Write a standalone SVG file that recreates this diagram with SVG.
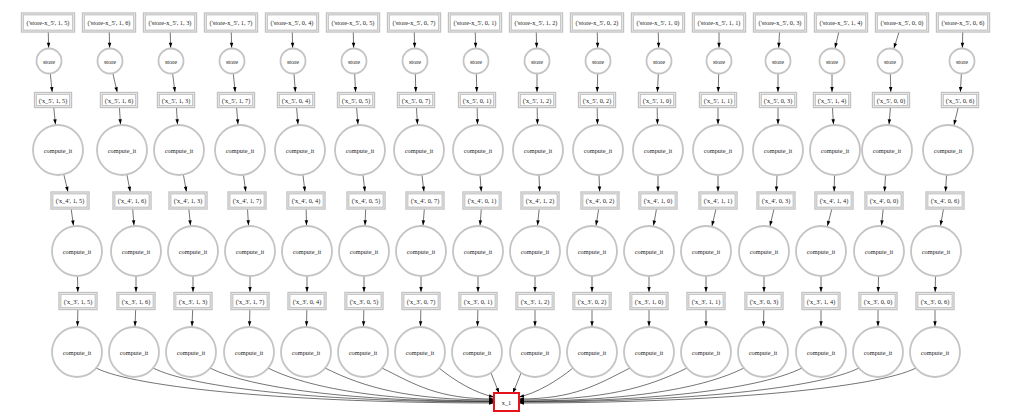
<svg xmlns="http://www.w3.org/2000/svg" xmlns:xlink="http://www.w3.org/1999/xlink" width="1013" height="419" viewBox="0 0 1013 419">
<style>
.bo{fill:#fff;stroke:#c2c2c2;stroke-width:1.4}
.bi{fill:none;stroke:#c2c2c2;stroke-width:1.2}
.nc{fill:#fff;stroke:#c4c4c4;stroke-width:1.8}
.out{fill:#fff;stroke:#e8141b;stroke-width:2}
text{font-family:"Liberation Serif","Times New Roman",serif;font-size:6.3px;fill:#1a1a1a;text-anchor:middle;dominant-baseline:central}
.e{fill:none;stroke:#000;stroke-width:0.55}
.es{marker-end:url(#ms)}
.eb{marker-end:url(#mb)}
.eb2{marker-end:url(#mb2)}
.ec{marker-end:url(#mc)}
.et{marker-end:url(#mt)}
</style>
<defs>
<!-- arrowheads; refX pulls the tip back onto the target outline -->
<marker id="ms" markerUnits="userSpaceOnUse" markerWidth="6" markerHeight="4" refX="18.3" refY="1.75" orient="auto" overflow="visible"><path d="M0,0L5,1.75L0,3.5z"/></marker>
<marker id="mc" markerUnits="userSpaceOnUse" markerWidth="6" markerHeight="4" refX="30.8" refY="1.75" orient="auto" overflow="visible"><path d="M0,0L5,1.75L0,3.5z"/></marker>
<marker id="mb" markerUnits="userSpaceOnUse" markerWidth="6" markerHeight="4" refX="13" refY="1.75" orient="auto" overflow="visible"><path d="M0,0L5,1.75L0,3.5z"/></marker>
<marker id="mb2" markerUnits="userSpaceOnUse" markerWidth="6" markerHeight="4" refX="14" refY="1.75" orient="auto" overflow="visible"><path d="M0,0L5,1.75L0,3.5z"/></marker>
<marker id="mt" markerUnits="userSpaceOnUse" markerWidth="6" markerHeight="4" refX="5" refY="1.75" orient="auto" overflow="visible"><path d="M0,0L5,1.75L0,3.5z"/></marker>
<!-- double-bordered boxes -->
<g id="bxA"><rect class="bo" x="-26.5" y="-9.5" width="53" height="19"/><rect class="bi" x="-24.7" y="-7.7" width="49.4" height="15.4"/></g>
<g id="bxC"><rect class="bo" x="-18.5" y="-7.5" width="37" height="15"/><rect class="bi" x="-16.7" y="-5.7" width="33.4" height="11.4"/></g>
<g id="bxE"><rect class="bo" x="-19" y="-8.5" width="38" height="17"/><rect class="bi" x="-17.2" y="-6.7" width="34.4" height="13.4"/></g>
</defs>

<g id="edges">
<!-- col 1 -->
<path class="e es" d="M48,22.5L49,61"/><path class="e eb" d="M49,61L53,100"/><path class="e ec" d="M53,100L58,150"/><path class="e eb2" d="M58,150L70,200.5"/><path class="e ec" d="M70,200.5L77,251"/><path class="e eb2" d="M77,251L78,301"/><path class="e ec" d="M78,301L77,352"/>
<!-- col 2 -->
<path class="e es" d="M109,22.5L110,61"/><path class="e eb" d="M110,61L119,100"/><path class="e ec" d="M119,100L122,150"/><path class="e eb2" d="M122,150L132,200.5"/><path class="e ec" d="M132,200.5L136,251"/><path class="e eb2" d="M136,251L136,301"/><path class="e ec" d="M136,301L134,352"/>
<!-- col 3 -->
<path class="e es" d="M170,22.5L171,61"/><path class="e eb" d="M171,61L176,100"/><path class="e ec" d="M176,100L179,150"/><path class="e eb2" d="M179,150L188,200.5"/><path class="e ec" d="M188,200.5L193,251"/><path class="e eb2" d="M193,251L193,301"/><path class="e ec" d="M193,301L191,352"/>
<!-- col 4 -->
<path class="e es" d="M231,22.5L232,61"/><path class="e eb" d="M232,61L236,100"/><path class="e ec" d="M236,100L240,150"/><path class="e eb2" d="M240,150L247,200.5"/><path class="e ec" d="M247,200.5L250,251"/><path class="e eb2" d="M250,251L250,301"/><path class="e ec" d="M250,301L249,352"/>
<!-- col 5 -->
<path class="e es" d="M292,22.5L293,61"/><path class="e eb" d="M293,61L296,100"/><path class="e ec" d="M296,100L300,150"/><path class="e eb2" d="M300,150L306,200.5"/><path class="e ec" d="M306,200.5L307,251"/><path class="e eb2" d="M307,251L307,301"/><path class="e ec" d="M307,301L306,352"/>
<!-- col 6 -->
<path class="e es" d="M353,22.5L354,61"/><path class="e eb" d="M354,61L356,100"/><path class="e ec" d="M356,100L360,150"/><path class="e eb2" d="M360,150L366,200.5"/><path class="e ec" d="M366,200.5L364,251"/><path class="e eb2" d="M364,251L364,301"/><path class="e ec" d="M364,301L363,352"/>
<!-- col 7 -->
<path class="e es" d="M414,22.5L415,61"/><path class="e eb" d="M415,61L416,100"/><path class="e ec" d="M416,100L419,150"/><path class="e eb2" d="M419,150L425,200.5"/><path class="e ec" d="M425,200.5L421,251"/><path class="e eb2" d="M421,251L421,301"/><path class="e ec" d="M421,301L420,352"/>
<!-- col 8 -->
<path class="e es" d="M475,22.5L476,61"/><path class="e eb" d="M476,61L477,100"/><path class="e ec" d="M477,100L478,150"/><path class="e eb2" d="M478,150L482,200.5"/><path class="e ec" d="M482,200.5L478,251"/><path class="e eb2" d="M478,251L478,301"/><path class="e ec" d="M478,301L477,352"/>
<!-- col 9 -->
<path class="e es" d="M536,22.5L537,61"/><path class="e eb" d="M537,61L537,100"/><path class="e ec" d="M537,100L538,150"/><path class="e eb2" d="M538,150L540,200.5"/><path class="e ec" d="M540,200.5L535,251"/><path class="e eb2" d="M535,251L535,301"/><path class="e ec" d="M535,301L535,352"/>
<!-- col 10 -->
<path class="e es" d="M597,22.5L598,61"/><path class="e eb" d="M598,61L597,100"/><path class="e ec" d="M597,100L598,150"/><path class="e eb2" d="M598,150L600,200.5"/><path class="e ec" d="M600,200.5L592,251"/><path class="e eb2" d="M592,251L592,301"/><path class="e ec" d="M592,301L592,352"/>
<!-- col 11 -->
<path class="e es" d="M658,22.5L659,61"/><path class="e eb" d="M659,61L657,100"/><path class="e ec" d="M657,100L658,150"/><path class="e eb2" d="M658,150L658,200.5"/><path class="e ec" d="M658,200.5L649,251"/><path class="e eb2" d="M649,251L649,301"/><path class="e ec" d="M649,301L649,352"/>
<!-- col 12 -->
<path class="e es" d="M719,22.5L719,61"/><path class="e eb" d="M719,61L718,100"/><path class="e ec" d="M718,100L718,150"/><path class="e eb2" d="M718,150L718,200.5"/><path class="e ec" d="M718,200.5L706,251"/><path class="e eb2" d="M706,251L706,301"/><path class="e ec" d="M706,301L706,352"/>
<!-- col 13 -->
<path class="e es" d="M780,22.5L778,61"/><path class="e eb" d="M778,61L778,100"/><path class="e ec" d="M778,100L778,150"/><path class="e eb2" d="M778,150L776,200.5"/><path class="e ec" d="M776,200.5L764,251"/><path class="e eb2" d="M764,251L764,301"/><path class="e ec" d="M764,301L763,352"/>
<!-- col 14 -->
<path class="e es" d="M841,22.5L832,61"/><path class="e eb" d="M832,61L832,100"/><path class="e ec" d="M832,100L835,150"/><path class="e eb2" d="M835,150L834,200.5"/><path class="e ec" d="M834,200.5L821,251"/><path class="e eb2" d="M821,251L821,301"/><path class="e ec" d="M821,301L821,352"/>
<!-- col 15 -->
<path class="e es" d="M902,22.5L890,61"/><path class="e eb" d="M890,61L891,100"/><path class="e ec" d="M891,100L887,150"/><path class="e eb2" d="M887,150L884,200.5"/><path class="e ec" d="M884,200.5L879,251"/><path class="e eb2" d="M879,251L878,301"/><path class="e ec" d="M878,301L878,352"/>
<!-- col 16 -->
<path class="e es" d="M963,22.5L962,61"/><path class="e eb" d="M962,61L960,100"/><path class="e ec" d="M960,100L948,150"/><path class="e eb2" d="M948,150L945,200.5"/><path class="e ec" d="M945,200.5L936,251"/><path class="e eb2" d="M936,251L935,301"/><path class="e ec" d="M935,301L935,352"/>
<!-- last compute_it row into x_1 -->
<path class="e et" d="M96,368C136,388 295,403 494,403"/>
<path class="e et" d="M153,368C193,388 323.5,402 494,402"/>
<path class="e et" d="M210,368C250,388 352,401.5 494,401.5"/>
<path class="e et" d="M268,368C308,388 381,401 494,401"/>
<path class="e et" d="M325,368C365,388 409.5,400 494,400"/>
<path class="e et" d="M382,368C415.6,384.8 438,399 494,399"/>
<path class="e et" d="M439,368C455,381 475,393 494,397"/>
<path class="e et" d="M491,373L499,393"/>
<path class="e et" d="M521,373L513,393"/>
<path class="e et" d="M573,368C557,381 537,393 519,397"/>
<path class="e et" d="M630,368C596.7,384.8 574.5,399 519,399"/>
<path class="e et" d="M687,368C647,388 603,400 519,400"/>
<path class="e et" d="M744,368C704,388 631.5,401 519,401"/>
<path class="e et" d="M802,368C762,388 660.5,401.5 519,401.5"/>
<path class="e et" d="M859,368C819,388 689,402 519,402"/>
<path class="e et" d="M916,368C876,388 717.5,403 519,403"/>
</g>

<!-- column 1 -->
<g id="store-x5-1-5"><use href="#bxA" x="48" y="22.5"/><text x="48" y="22.5">('store-x_5', 1, 5)</text></g>
<g id="store-1-5"><circle class="nc" cx="49" cy="61" r="12.5"/><text x="49" y="61">store</text></g>
<g id="x5-1-5"><use href="#bxC" x="53" y="100"/><text x="53" y="100">('x_5', 1, 5)</text></g>
<g id="c4-1-5"><circle class="nc" cx="58" cy="150" r="25"/><text x="58" y="150">compute_it</text></g>
<g id="x4-1-5"><use href="#bxE" x="70" y="200.5"/><text x="70" y="200.5">('x_4', 1, 5)</text></g>
<g id="c3-1-5"><circle class="nc" cx="77" cy="251" r="25"/><text x="77" y="251">compute_it</text></g>
<g id="x3-1-5"><use href="#bxE" x="78" y="301"/><text x="78" y="301">('x_3', 1, 5)</text></g>
<g id="c1-1-5"><circle class="nc" cx="77" cy="352" r="25"/><text x="77" y="352">compute_it</text></g>
<!-- column 2 -->
<g id="store-x5-1-6"><use href="#bxA" x="109" y="22.5"/><text x="109" y="22.5">('store-x_5', 1, 6)</text></g>
<g id="store-1-6"><circle class="nc" cx="110" cy="61" r="12.5"/><text x="110" y="61">store</text></g>
<g id="x5-1-6"><use href="#bxC" x="119" y="100"/><text x="119" y="100">('x_5', 1, 6)</text></g>
<g id="c4-1-6"><circle class="nc" cx="122" cy="150" r="25"/><text x="122" y="150">compute_it</text></g>
<g id="x4-1-6"><use href="#bxE" x="132" y="200.5"/><text x="132" y="200.5">('x_4', 1, 6)</text></g>
<g id="c3-1-6"><circle class="nc" cx="136" cy="251" r="25"/><text x="136" y="251">compute_it</text></g>
<g id="x3-1-6"><use href="#bxE" x="136" y="301"/><text x="136" y="301">('x_3', 1, 6)</text></g>
<g id="c1-1-6"><circle class="nc" cx="134" cy="352" r="25"/><text x="134" y="352">compute_it</text></g>
<!-- column 3 -->
<g id="store-x5-1-3"><use href="#bxA" x="170" y="22.5"/><text x="170" y="22.5">('store-x_5', 1, 3)</text></g>
<g id="store-1-3"><circle class="nc" cx="171" cy="61" r="12.5"/><text x="171" y="61">store</text></g>
<g id="x5-1-3"><use href="#bxC" x="176" y="100"/><text x="176" y="100">('x_5', 1, 3)</text></g>
<g id="c4-1-3"><circle class="nc" cx="179" cy="150" r="25"/><text x="179" y="150">compute_it</text></g>
<g id="x4-1-3"><use href="#bxE" x="188" y="200.5"/><text x="188" y="200.5">('x_4', 1, 3)</text></g>
<g id="c3-1-3"><circle class="nc" cx="193" cy="251" r="25"/><text x="193" y="251">compute_it</text></g>
<g id="x3-1-3"><use href="#bxE" x="193" y="301"/><text x="193" y="301">('x_3', 1, 3)</text></g>
<g id="c1-1-3"><circle class="nc" cx="191" cy="352" r="25"/><text x="191" y="352">compute_it</text></g>
<!-- column 4 -->
<g id="store-x5-1-7"><use href="#bxA" x="231" y="22.5"/><text x="231" y="22.5">('store-x_5', 1, 7)</text></g>
<g id="store-1-7"><circle class="nc" cx="232" cy="61" r="12.5"/><text x="232" y="61">store</text></g>
<g id="x5-1-7"><use href="#bxC" x="236" y="100"/><text x="236" y="100">('x_5', 1, 7)</text></g>
<g id="c4-1-7"><circle class="nc" cx="240" cy="150" r="25"/><text x="240" y="150">compute_it</text></g>
<g id="x4-1-7"><use href="#bxE" x="247" y="200.5"/><text x="247" y="200.5">('x_4', 1, 7)</text></g>
<g id="c3-1-7"><circle class="nc" cx="250" cy="251" r="25"/><text x="250" y="251">compute_it</text></g>
<g id="x3-1-7"><use href="#bxE" x="250" y="301"/><text x="250" y="301">('x_3', 1, 7)</text></g>
<g id="c1-1-7"><circle class="nc" cx="249" cy="352" r="25"/><text x="249" y="352">compute_it</text></g>
<!-- column 5 -->
<g id="store-x5-0-4"><use href="#bxA" x="292" y="22.5"/><text x="292" y="22.5">('store-x_5', 0, 4)</text></g>
<g id="store-0-4"><circle class="nc" cx="293" cy="61" r="12.5"/><text x="293" y="61">store</text></g>
<g id="x5-0-4"><use href="#bxC" x="296" y="100"/><text x="296" y="100">('x_5', 0, 4)</text></g>
<g id="c4-0-4"><circle class="nc" cx="300" cy="150" r="25"/><text x="300" y="150">compute_it</text></g>
<g id="x4-0-4"><use href="#bxE" x="306" y="200.5"/><text x="306" y="200.5">('x_4', 0, 4)</text></g>
<g id="c3-0-4"><circle class="nc" cx="307" cy="251" r="25"/><text x="307" y="251">compute_it</text></g>
<g id="x3-0-4"><use href="#bxE" x="307" y="301"/><text x="307" y="301">('x_3', 0, 4)</text></g>
<g id="c1-0-4"><circle class="nc" cx="306" cy="352" r="25"/><text x="306" y="352">compute_it</text></g>
<!-- column 6 -->
<g id="store-x5-0-5"><use href="#bxA" x="353" y="22.5"/><text x="353" y="22.5">('store-x_5', 0, 5)</text></g>
<g id="store-0-5"><circle class="nc" cx="354" cy="61" r="12.5"/><text x="354" y="61">store</text></g>
<g id="x5-0-5"><use href="#bxC" x="356" y="100"/><text x="356" y="100">('x_5', 0, 5)</text></g>
<g id="c4-0-5"><circle class="nc" cx="360" cy="150" r="25"/><text x="360" y="150">compute_it</text></g>
<g id="x4-0-5"><use href="#bxE" x="366" y="200.5"/><text x="366" y="200.5">('x_4', 0, 5)</text></g>
<g id="c3-0-5"><circle class="nc" cx="364" cy="251" r="25"/><text x="364" y="251">compute_it</text></g>
<g id="x3-0-5"><use href="#bxE" x="364" y="301"/><text x="364" y="301">('x_3', 0, 5)</text></g>
<g id="c1-0-5"><circle class="nc" cx="363" cy="352" r="25"/><text x="363" y="352">compute_it</text></g>
<!-- column 7 -->
<g id="store-x5-0-7"><use href="#bxA" x="414" y="22.5"/><text x="414" y="22.5">('store-x_5', 0, 7)</text></g>
<g id="store-0-7"><circle class="nc" cx="415" cy="61" r="12.5"/><text x="415" y="61">store</text></g>
<g id="x5-0-7"><use href="#bxC" x="416" y="100"/><text x="416" y="100">('x_5', 0, 7)</text></g>
<g id="c4-0-7"><circle class="nc" cx="419" cy="150" r="25"/><text x="419" y="150">compute_it</text></g>
<g id="x4-0-7"><use href="#bxE" x="425" y="200.5"/><text x="425" y="200.5">('x_4', 0, 7)</text></g>
<g id="c3-0-7"><circle class="nc" cx="421" cy="251" r="25"/><text x="421" y="251">compute_it</text></g>
<g id="x3-0-7"><use href="#bxE" x="421" y="301"/><text x="421" y="301">('x_3', 0, 7)</text></g>
<g id="c1-0-7"><circle class="nc" cx="420" cy="352" r="25"/><text x="420" y="352">compute_it</text></g>
<!-- column 8 -->
<g id="store-x5-0-1"><use href="#bxA" x="475" y="22.5"/><text x="475" y="22.5">('store-x_5', 0, 1)</text></g>
<g id="store-0-1"><circle class="nc" cx="476" cy="61" r="12.5"/><text x="476" y="61">store</text></g>
<g id="x5-0-1"><use href="#bxC" x="477" y="100"/><text x="477" y="100">('x_5', 0, 1)</text></g>
<g id="c4-0-1"><circle class="nc" cx="478" cy="150" r="25"/><text x="478" y="150">compute_it</text></g>
<g id="x4-0-1"><use href="#bxE" x="482" y="200.5"/><text x="482" y="200.5">('x_4', 0, 1)</text></g>
<g id="c3-0-1"><circle class="nc" cx="478" cy="251" r="25"/><text x="478" y="251">compute_it</text></g>
<g id="x3-0-1"><use href="#bxE" x="478" y="301"/><text x="478" y="301">('x_3', 0, 1)</text></g>
<g id="c1-0-1"><circle class="nc" cx="477" cy="352" r="25"/><text x="477" y="352">compute_it</text></g>
<!-- column 9 -->
<g id="store-x5-1-2"><use href="#bxA" x="536" y="22.5"/><text x="536" y="22.5">('store-x_5', 1, 2)</text></g>
<g id="store-1-2"><circle class="nc" cx="537" cy="61" r="12.5"/><text x="537" y="61">store</text></g>
<g id="x5-1-2"><use href="#bxC" x="537" y="100"/><text x="537" y="100">('x_5', 1, 2)</text></g>
<g id="c4-1-2"><circle class="nc" cx="538" cy="150" r="25"/><text x="538" y="150">compute_it</text></g>
<g id="x4-1-2"><use href="#bxE" x="540" y="200.5"/><text x="540" y="200.5">('x_4', 1, 2)</text></g>
<g id="c3-1-2"><circle class="nc" cx="535" cy="251" r="25"/><text x="535" y="251">compute_it</text></g>
<g id="x3-1-2"><use href="#bxE" x="535" y="301"/><text x="535" y="301">('x_3', 1, 2)</text></g>
<g id="c1-1-2"><circle class="nc" cx="535" cy="352" r="25"/><text x="535" y="352">compute_it</text></g>
<!-- column 10 -->
<g id="store-x5-0-2"><use href="#bxA" x="597" y="22.5"/><text x="597" y="22.5">('store-x_5', 0, 2)</text></g>
<g id="store-0-2"><circle class="nc" cx="598" cy="61" r="12.5"/><text x="598" y="61">store</text></g>
<g id="x5-0-2"><use href="#bxC" x="597" y="100"/><text x="597" y="100">('x_5', 0, 2)</text></g>
<g id="c4-0-2"><circle class="nc" cx="598" cy="150" r="25"/><text x="598" y="150">compute_it</text></g>
<g id="x4-0-2"><use href="#bxE" x="600" y="200.5"/><text x="600" y="200.5">('x_4', 0, 2)</text></g>
<g id="c3-0-2"><circle class="nc" cx="592" cy="251" r="25"/><text x="592" y="251">compute_it</text></g>
<g id="x3-0-2"><use href="#bxE" x="592" y="301"/><text x="592" y="301">('x_3', 0, 2)</text></g>
<g id="c1-0-2"><circle class="nc" cx="592" cy="352" r="25"/><text x="592" y="352">compute_it</text></g>
<!-- column 11 -->
<g id="store-x5-1-0"><use href="#bxA" x="658" y="22.5"/><text x="658" y="22.5">('store-x_5', 1, 0)</text></g>
<g id="store-1-0"><circle class="nc" cx="659" cy="61" r="12.5"/><text x="659" y="61">store</text></g>
<g id="x5-1-0"><use href="#bxC" x="657" y="100"/><text x="657" y="100">('x_5', 1, 0)</text></g>
<g id="c4-1-0"><circle class="nc" cx="658" cy="150" r="25"/><text x="658" y="150">compute_it</text></g>
<g id="x4-1-0"><use href="#bxE" x="658" y="200.5"/><text x="658" y="200.5">('x_4', 1, 0)</text></g>
<g id="c3-1-0"><circle class="nc" cx="649" cy="251" r="25"/><text x="649" y="251">compute_it</text></g>
<g id="x3-1-0"><use href="#bxE" x="649" y="301"/><text x="649" y="301">('x_3', 1, 0)</text></g>
<g id="c1-1-0"><circle class="nc" cx="649" cy="352" r="25"/><text x="649" y="352">compute_it</text></g>
<!-- column 12 -->
<g id="store-x5-1-1"><use href="#bxA" x="719" y="22.5"/><text x="719" y="22.5">('store-x_5', 1, 1)</text></g>
<g id="store-1-1"><circle class="nc" cx="719" cy="61" r="12.5"/><text x="719" y="61">store</text></g>
<g id="x5-1-1"><use href="#bxC" x="718" y="100"/><text x="718" y="100">('x_5', 1, 1)</text></g>
<g id="c4-1-1"><circle class="nc" cx="718" cy="150" r="25"/><text x="718" y="150">compute_it</text></g>
<g id="x4-1-1"><use href="#bxE" x="718" y="200.5"/><text x="718" y="200.5">('x_4', 1, 1)</text></g>
<g id="c3-1-1"><circle class="nc" cx="706" cy="251" r="25"/><text x="706" y="251">compute_it</text></g>
<g id="x3-1-1"><use href="#bxE" x="706" y="301"/><text x="706" y="301">('x_3', 1, 1)</text></g>
<g id="c1-1-1"><circle class="nc" cx="706" cy="352" r="25"/><text x="706" y="352">compute_it</text></g>
<!-- column 13 -->
<g id="store-x5-0-3"><use href="#bxA" x="780" y="22.5"/><text x="780" y="22.5">('store-x_5', 0, 3)</text></g>
<g id="store-0-3"><circle class="nc" cx="778" cy="61" r="12.5"/><text x="778" y="61">store</text></g>
<g id="x5-0-3"><use href="#bxC" x="778" y="100"/><text x="778" y="100">('x_5', 0, 3)</text></g>
<g id="c4-0-3"><circle class="nc" cx="778" cy="150" r="25"/><text x="778" y="150">compute_it</text></g>
<g id="x4-0-3"><use href="#bxE" x="776" y="200.5"/><text x="776" y="200.5">('x_4', 0, 3)</text></g>
<g id="c3-0-3"><circle class="nc" cx="764" cy="251" r="25"/><text x="764" y="251">compute_it</text></g>
<g id="x3-0-3"><use href="#bxE" x="764" y="301"/><text x="764" y="301">('x_3', 0, 3)</text></g>
<g id="c1-0-3"><circle class="nc" cx="763" cy="352" r="25"/><text x="763" y="352">compute_it</text></g>
<!-- column 14 -->
<g id="store-x5-1-4"><use href="#bxA" x="841" y="22.5"/><text x="841" y="22.5">('store-x_5', 1, 4)</text></g>
<g id="store-1-4"><circle class="nc" cx="832" cy="61" r="12.5"/><text x="832" y="61">store</text></g>
<g id="x5-1-4"><use href="#bxC" x="832" y="100"/><text x="832" y="100">('x_5', 1, 4)</text></g>
<g id="c4-1-4"><circle class="nc" cx="835" cy="150" r="25"/><text x="835" y="150">compute_it</text></g>
<g id="x4-1-4"><use href="#bxE" x="834" y="200.5"/><text x="834" y="200.5">('x_4', 1, 4)</text></g>
<g id="c3-1-4"><circle class="nc" cx="821" cy="251" r="25"/><text x="821" y="251">compute_it</text></g>
<g id="x3-1-4"><use href="#bxE" x="821" y="301"/><text x="821" y="301">('x_3', 1, 4)</text></g>
<g id="c1-1-4"><circle class="nc" cx="821" cy="352" r="25"/><text x="821" y="352">compute_it</text></g>
<!-- column 15 -->
<g id="store-x5-0-0"><use href="#bxA" x="902" y="22.5"/><text x="902" y="22.5">('store-x_5', 0, 0)</text></g>
<g id="store-0-0"><circle class="nc" cx="890" cy="61" r="12.5"/><text x="890" y="61">store</text></g>
<g id="x5-0-0"><use href="#bxC" x="891" y="100"/><text x="891" y="100">('x_5', 0, 0)</text></g>
<g id="c4-0-0"><circle class="nc" cx="887" cy="150" r="25"/><text x="887" y="150">compute_it</text></g>
<g id="x4-0-0"><use href="#bxE" x="884" y="200.5"/><text x="884" y="200.5">('x_4', 0, 0)</text></g>
<g id="c3-0-0"><circle class="nc" cx="879" cy="251" r="25"/><text x="879" y="251">compute_it</text></g>
<g id="x3-0-0"><use href="#bxE" x="878" y="301"/><text x="878" y="301">('x_3', 0, 0)</text></g>
<g id="c1-0-0"><circle class="nc" cx="878" cy="352" r="25"/><text x="878" y="352">compute_it</text></g>
<!-- column 16 -->
<g id="store-x5-0-6"><use href="#bxA" x="963" y="22.5"/><text x="963" y="22.5">('store-x_5', 0, 6)</text></g>
<g id="store-0-6"><circle class="nc" cx="962" cy="61" r="12.5"/><text x="962" y="61">store</text></g>
<g id="x5-0-6"><use href="#bxC" x="960" y="100"/><text x="960" y="100">('x_5', 0, 6)</text></g>
<g id="c4-0-6"><circle class="nc" cx="948" cy="150" r="25"/><text x="948" y="150">compute_it</text></g>
<g id="x4-0-6"><use href="#bxE" x="945" y="200.5"/><text x="945" y="200.5">('x_4', 0, 6)</text></g>
<g id="c3-0-6"><circle class="nc" cx="936" cy="251" r="25"/><text x="936" y="251">compute_it</text></g>
<g id="x3-0-6"><use href="#bxE" x="935" y="301"/><text x="935" y="301">('x_3', 0, 6)</text></g>
<g id="c1-0-6"><circle class="nc" cx="935" cy="352" r="25"/><text x="935" y="352">compute_it</text></g>
<!-- output -->
<g id="x_1"><rect class="out" x="494" y="393" width="25" height="18"/><text x="506.5" y="402">x_1</text></g>
</svg>
